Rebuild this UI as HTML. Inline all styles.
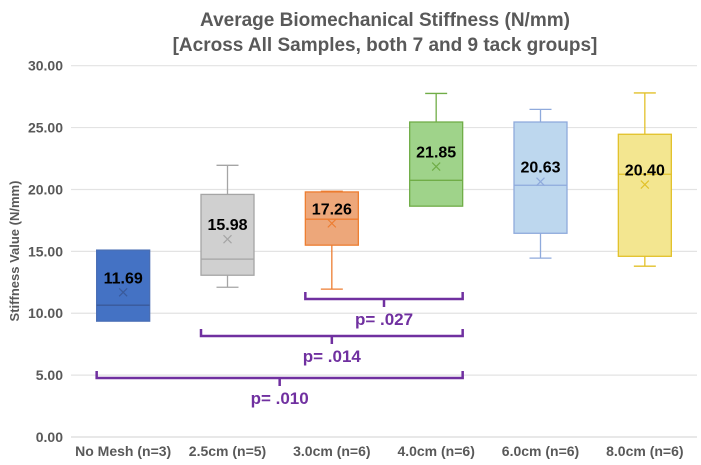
<!DOCTYPE html>
<html><head><meta charset="utf-8"><style>
body{margin:0;background:#fff;}
svg{display:block;font-family:"Liberation Sans",sans-serif;}
</style></head><body>
<svg id="chart" width="701" height="465">
<text x="385" y="26" text-anchor="middle" font-size="19" font-weight="bold" fill="#595959">Average Biomechanical Stiffness (N/mm)</text>
<text x="385" y="51" text-anchor="middle" font-size="19" font-weight="bold" fill="#595959">[Across All Samples, both 7 and 9 tack groups]</text>
<text transform="translate(19,251) rotate(-90)" text-anchor="middle" font-size="13" font-weight="bold" fill="#595959">Stiffness Value (N/mm)</text>
<g id="grid"></g><g id="boxes"></g><g id="brackets"></g>
</svg>
<script>
const categories=["No Mesh (n=3)","2.5cm (n=5)","3.0cm (n=6)","4.0cm (n=6)","6.0cm (n=6)","8.0cm (n=6)"];
const mins=[9.36,12.1,11.95,18.65,14.45,13.8];
const q1s=[9.36,13.07,15.5,18.65,16.46,14.6];
const medians=[10.65,14.37,17.6,20.74,20.34,21.23];
const q3s=[15.1,19.6,19.8,25.45,25.45,24.46];
const maxs=[15.1,21.95,19.85,27.76,26.47,27.8];
const means=[11.69,15.98,17.26,21.85,20.63,20.40];
const meanLabels=["11.69","15.98","17.26","21.85","20.63","20.40"];
const yTicks=[0,5,10,15,20,25,30];
const compFrom=[2,1,0];
const compTo=[3,3,3];
const compLabels=["p= .027","p= .014","p= .010"];
const compY=[11.15,8.16,4.77];

const fills=["#4472c4","#d0d0d0","#eda77a","#9fd38a","#bdd7ee","#f3e690"];
const strokes=["#4a6fb5","#a5a5a5","#ed7d31","#70ad47","#8faadc","#e2c12a"];
const L=71,R=697,T=65.7,B=437;
const y=v=>B-(B-T)*v/30;
const cw=(R-L)/categories.length;
const x=i=>L+cw*(i+0.5);
const NS="http://www.w3.org/2000/svg";
function mk(tag,attrs,parent,txt){const e=document.createElementNS(NS,tag);for(const k in attrs)e.setAttribute(k,attrs[k]);if(txt!=null)e.textContent=txt;parent.appendChild(e);return e;}
const grid=document.getElementById('grid');
yTicks.forEach(t=>{
 const l=mk('line',{x1:L,x2:R,y1:y(t),y2:y(t),stroke:t===0?'#d9d9d9':'#e3e3e3','stroke-width':1.2},grid);
 
 
 const tx=mk('text',{x:63,y:y(t)+5,'text-anchor':'end','font-size':14,'font-weight':'bold',fill:'#595959'},grid,t.toFixed(2));
 
 
});
categories.forEach((c,i)=>{
 const tx=mk('text',{x:x(i),y:456,'text-anchor':'middle','font-size':14,'font-weight':'bold',fill:'#595959'},grid,c);
 
 
});
const bg=document.getElementById('boxes');
const bw=53;
categories.forEach((c,i)=>{
 const g=mk('g',{},bg);
 
 
 const cx=x(i),s=strokes[i];
 mk('line',{x1:cx,x2:cx,y1:y(maxs[i]),y2:y(q3s[i]),stroke:s,'stroke-width':1.3},g);
 mk('line',{x1:cx,x2:cx,y1:y(q1s[i]),y2:y(mins[i]),stroke:s,'stroke-width':1.3},g);
 if(maxs[i]>q3s[i]+0.01)mk('line',{x1:cx-11,x2:cx+11,y1:y(maxs[i]),y2:y(maxs[i]),stroke:s,'stroke-width':1.3},g);
 if(mins[i]<q1s[i]-0.01)mk('line',{x1:cx-11,x2:cx+11,y1:y(mins[i]),y2:y(mins[i]),stroke:s,'stroke-width':1.3},g);
 mk('rect',{x:cx-bw/2,y:y(q3s[i]),width:bw,height:y(q1s[i])-y(q3s[i]),fill:fills[i],stroke:s,'stroke-width':1.3},g);
 mk('line',{x1:cx-bw/2,x2:cx+bw/2,y1:y(medians[i]),y2:y(medians[i]),stroke:i===0?'#3a5a9a':s,'stroke-width':1.3},g);
 const my=y(means[i]);
 mk('path',{d:`M${cx-4} ${my-4}L${cx+4} ${my+4}M${cx+4} ${my-4}L${cx-4} ${my+4}`,stroke:i===0?'#3a5a9a':s,'stroke-width':1.2,fill:'none'},g);
 const lt=mk('text',{x:cx,y:my-9,'text-anchor':'middle','font-size':16,'font-weight':'bold',fill:'#000'},g,meanLabels[i]);
 
 
});
const br=document.getElementById('brackets');
compLabels.forEach((lab,k)=>{
 const g=mk('g',{},br);
 
 
 const x1=x(compFrom[k])-bw/2,x2=x(compTo[k])+bw/2,yy=y(compY[k]),mx=(x1+x2)/2;
 mk('path',{d:`M${x1} ${yy-7}V${yy}H${x2}V${yy-7}M${mx} ${yy}V${yy+8}`,stroke:'#7030a0','stroke-width':2.5,fill:'none'},g);
 mk('text',{x:mx,y:yy+26,'text-anchor':'middle','font-size':17,'font-weight':'bold',fill:'#7030a0'},g,lab);
});
</script>
</body></html>
